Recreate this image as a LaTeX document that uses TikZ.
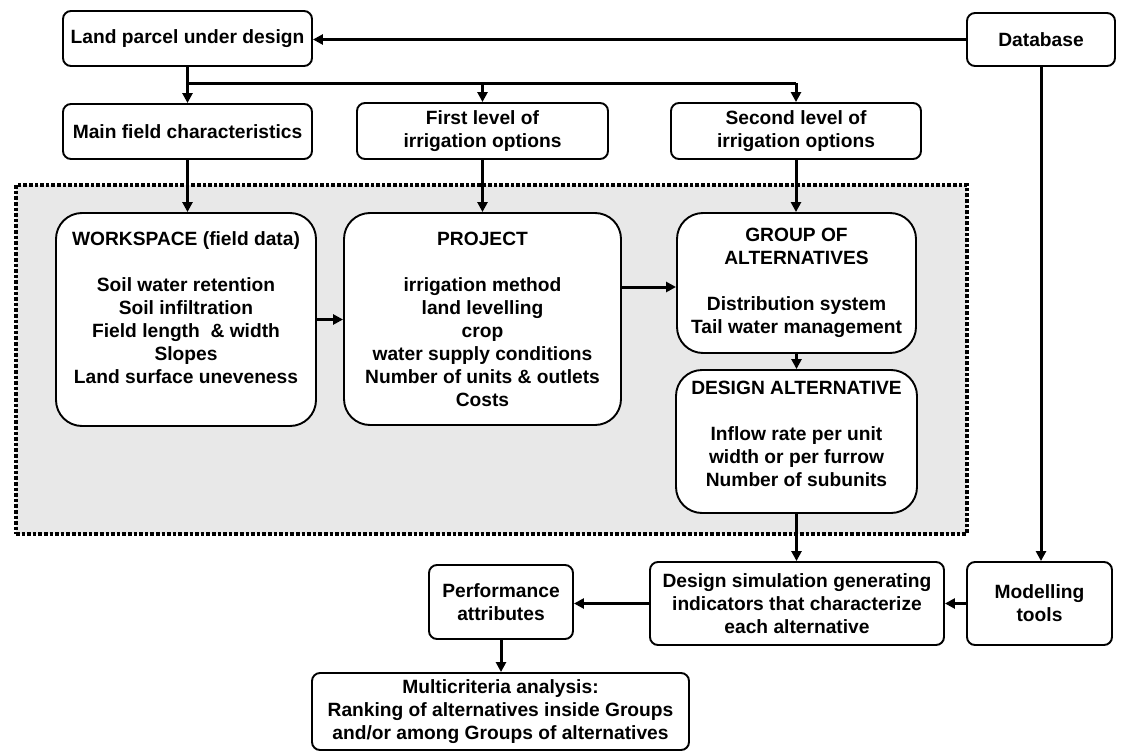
\documentclass[tikz,border=0pt]{standalone}
\usepackage{fontspec}
\setmainfont{Liberation Sans}
\usetikzlibrary{arrows.meta}
\begin{document}
\begin{tikzpicture}[x=1pt,y=-1pt,
  txt/.style={font=\bfseries\fontsize{19.2}{23}\selectfont},
  box/.style={draw, line width=1.9pt, rounded corners=8pt, fill=white, align=center, inner sep=0pt, txt},
  bigbox/.style={box, rounded corners=26pt},
  sz/.style 2 args={minimum width=#1pt, minimum height=#2pt},
  arr/.style={line width=3pt, -{Triangle[length=10pt,width=10pt]}},
  ln/.style={line width=3pt}]
\useasboundingbox (0,0) rectangle (1132,752);
% shaded workspace region
\node[draw, line width=3.6pt, dash pattern=on 3.6pt off 2pt, fill=black!9, minimum width=951pt, minimum height=349pt, inner sep=0pt] (region) at (491.5,359.5) {};
% top row
\node[box, sz={249}{55}] (land) at (187.5,38.5) {Land parcel under design};
\node[box, sz={148}{53}] (db) at (1041,39.5) {Database};
\node[box, sz={249}{55}] (main) at (187.5,131.5) {Main field characteristics};
\node[box, sz={251}{56}] (first) at (482.5,131) {First level of\\irrigation options};
\node[box, sz={250}{56}] (second) at (796,131) {Second level of\\irrigation options};
% inside region
\node[bigbox, sz={260}{213}] (ws) at (186,319.5) {WORKSPACE (field data)\\[23pt]Soil water retention\\Soil infiltration\\Field length\ \ \& width\\Slopes\\Land surface uneveness\\ };
\node[bigbox, sz={277}{212}] (proj) at (482.5,319) {PROJECT\\[23pt]irrigation method\\land levelling\\crop\\water supply conditions\\Number of units \& outlets\\Costs};
\node[bigbox, sz={239}{140}] (group) at (796.5,283) {GROUP OF\\ALTERNATIVES\\[23pt]Distribution system\\Tail water management};
\node[bigbox, sz={241}{143}] (design) at (796.5,441.5) {DESIGN ALTERNATIVE\\[23pt]Inflow rate per unit\\width or per furrow\\Number of subunits\\[-8pt]};
% bottom row
\node[box, sz={294}{83}] (sim) at (797,603.5) {Design simulation generating\\indicators that characterize\\each alternative};
\node[box, sz={145}{83}] (model) at (1039.5,603.5) {Modelling\\tools};
\node[box, sz={144}{74}] (perf) at (501,602) {Performance\\attributes};
\node[box, sz={377}{77}] (multi) at (500.5,711.5) {Multicriteria analysis:\\Ranking of alternatives inside Groups\\and/or among Groups of alternatives};
% connectors
\coordinate (bus) at (187.5,83);
\coordinate (busR) at (796,83);
\draw[arr] (db.west) -- (db.west -| land.east);
\draw[ln] (land.south) -- (bus);
\draw[arr] (bus) -- (main.north);
\draw[ln] (bus) -- (busR);
\draw[arr] (busR) -- (second.north);
\draw[arr] (bus -| first.north) -- (first.north);
\draw[arr] (main.south) -- (main.south |- ws.north);
\draw[arr] (first.south) -- (proj.north);
\draw[arr] (second.south) -- (second.south |- group.north);
\draw[arr] (ws.east) -- (ws.east -| proj.west);
\draw[arr] (proj.east |- 0,287) -- (group.west |- 0,287);
\draw[arr] (group.south) -- (design.north);
\draw[arr] (design.south) -- (design.south |- sim.north);
\draw[arr] (db.south) -- (db.south |- model.north);
\draw[arr] (model.west) -- (model.west -| sim.east);
\draw[arr] (sim.west) -- (sim.west -| perf.east);
\draw[arr] (perf.south) -- (perf.south |- multi.north);
\end{tikzpicture}
\end{document}
